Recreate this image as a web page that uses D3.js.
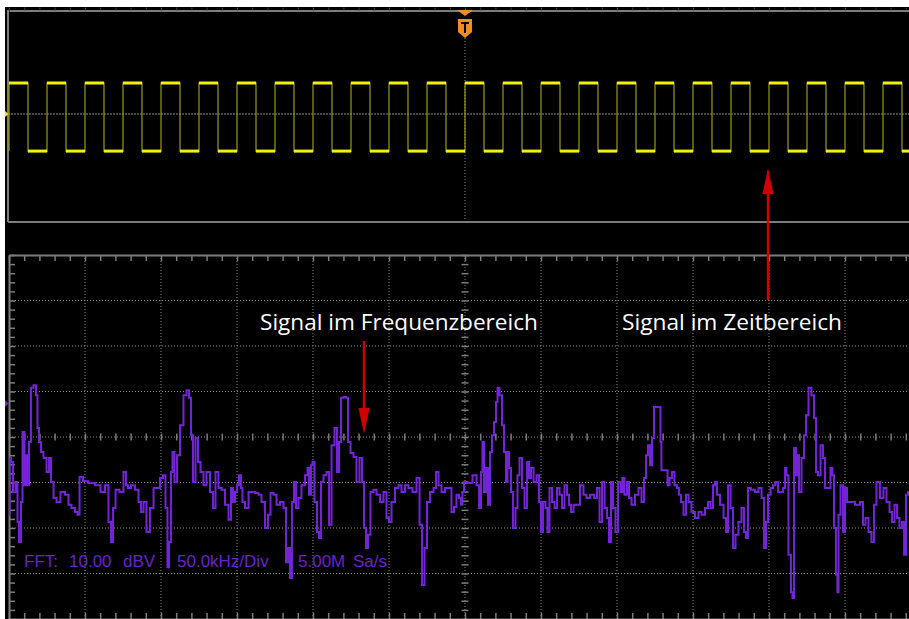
<!DOCTYPE html>
<html>
<head>
<meta charset="utf-8">
<script src="https://cdn.jsdelivr.net/npm/d3@7"></script>
<style>
  html, body { margin: 0; padding: 0; background: #fff; }
  svg { display: block; }
</style>
</head>
<body>
<svg id="scope" width="909" height="619"></svg>
<script>
// ---- Channel 1, time domain (10 µs/div, trigger at t = 0) ----
const risingEdges  = [-60, -55, -50, -45, -40, -35, -30, -25, -20, -15, -10, -5, 0, 5, 10, 15, 20, 25, 30, 35, 40, 45, 50, 55];
const fallingEdges = [-57.5, -52.5, -47.5, -42.5, -37.5, -32.5, -27.5, -22.5, -17.5, -12.5, -7.5, -2.5, 2.5, 7.5, 12.5, 17.5, 22.5, 27.5, 32.5, 37.5, 42.5, 47.5, 52.5, 57.5];
const highLevel = 1.17;   // V
const lowLevel  = -1.40;  // V

// ---- FFT of channel 1: [frequency kHz, level dBV] ----
const fftSpectrum = [
  [0,-17.1],[0.7,-4.6],[2.0,-5.5],[3.3,-12.1],[5.3,-9.9],[5.9,-18.7],[7.2,-23.1],[8.6,-14.3],[9.2,1.1],[11.2,-10.6],
  [11.8,-4.0],[12.5,-10.6],[13.8,-1.1],[15.1,10.8],[17.1,11.4],[18.4,9.2],[19.1,2.0],[20.4,-1.1],[21.7,-3.3],[23.7,-4.6],
  [25.7,-7.7],[27.0,-4.6],[28.3,-9.9],[30.3,-13.4],[32.2,-14.3],[35.5,-12.1],[38.2,-12.7],[40.1,-14.9],[42.1,-15.6],[44.7,-16.5],
  [45.4,-17.1],[47.4,-8.8],[50.0,-9.7],[54.6,-10.1],[58.6,-10.6],[61.8,-12.1],[64.5,-10.6],[66.4,-18.7],[67.8,-23.1],[69.1,-15.6],
  [71.1,-11.6],[74.3,-12.1],[76.3,-7.7],[77.6,-10.6],[78.9,-11.2],[81.6,-10.6],[84.2,-11.6],[86.2,-14.3],[87.5,-16.5],[89.5,-14.3],
  [91.4,-20.9],[94.1,-15.6],[96.1,-11.2],[98.0,-11.2],[100.7,-9.0],[102.0,-8.4],[103.9,-15.6],[104.6,-28.6],[105.9,-23.1],[107.2,-7.7],
  [107.9,-3.3],[109.9,-9.9],[111.2,-4.0],[113.8,2.6],[115.8,9.2],[117.8,10.3],[119.1,8.6],[120.4,0.4],[121.7,-9.9],[123.7,-0.2],
  [125.0,-5.5],[127.0,-7.7],[128.9,-10.6],[130.9,-7.7],[133.6,-12.1],[134.9,-15.6],[136.8,-7.7],[138.8,-11.2],[140.8,-11.6],[143.4,-14.9],
  [145.4,-18.2],[146.7,-11.2],[148.0,-14.3],[149.3,-12.1],[150.7,-10.6],[151.9,-8.4],[153.3,-11.2],[153.9,-14.3],[156.6,-15.6],[158.6,-12.1],
  [160.5,-12.1],[163.2,-12.3],[165.1,-12.7],[167.1,-14.3],[169.7,-20.0],[171.1,-17.1],[173.0,-12.3],[175.0,-12.7],[177.0,-14.9],[179.6,-14.3],
  [181.6,-15.6],[182.9,-27.5],[184.2,-24.4],[185.5,-31.0],[186.8,-14.3],[188.2,-9.9],[189.5,-15.6],[191.4,-13.4],[193.4,-10.6],[196.1,-8.4],
  [196.7,-6.8],[198.0,-12.7],[199.3,-6.2],[200.0,-5.5],[202.0,-14.3],[203.3,-20.9],[204.6,-22.2],[205.9,-9.9],[207.9,-8.4],[209.9,-7.7],
  [211.2,-19.3],[213.2,-1.8],[215.1,2.0],[216.4,-7.7],[217.8,-1.1],[219.1,8.6],[221.1,8.8],[222.4,8.6],[223.7,-1.1],[225.7,-3.5],
  [227.6,-4.4],[229.6,-9.9],[231.6,-4.6],[232.9,-9.9],[234.2,-20.0],[235.5,-24.4],[236.8,-21.5],[238.8,-12.1],[240.8,-11.6],[242.8,-12.7],
  [245.4,-14.3],[247.4,-12.1],[249.3,-17.8],[250.7,-18.7],[252.6,-14.3],[255.3,-11.2],[257.2,-10.6],[259.2,-12.1],[261.8,-10.6],[263.8,-11.2],
  [267.1,-12.1],[269.1,-9.0],[271.1,-19.3],[272.4,-32.5],[274.3,-24.4],[275.7,-14.3],[278.3,-12.1],[280.3,-11.2],[281.6,-7.7],[283.6,-10.6],
  [285.5,-12.1],[288.2,-11.2],[290.1,-11.2],[292.1,-16.5],[293.4,-15.4],[295.4,-12.7],[296.7,-13.4],[298.0,-14.9],[298.7,-12.1],[300.0,-9.9],
  [303.3,-10.1],[306.6,-8.4],[308.6,-10.6],[309.9,-15.6],[311.2,-7.7],[311.8,-1.1],[313.2,-12.1],[314.5,-6.8],[315.8,-14.9],[317.1,-3.3],
  [318.4,0.4],[319.7,3.3],[321.1,7.7],[321.7,10.8],[323.7,9.2],[325.0,2.6],[326.3,-3.3],[327.6,-9.9],[328.3,-3.3],[329.6,-6.8],
  [330.9,-12.1],[332.2,-20.0],[334.2,-15.6],[334.9,-8.4],[336.8,-4.6],[338.2,-11.2],[340.1,-15.6],[341.4,-5.5],[342.8,-9.0],[344.1,-6.8],
  [346.1,-9.9],[348.0,-8.4],[349.3,-14.3],[350.7,-20.9],[352.0,-14.3],[353.9,-15.6],[354.6,-20.9],[356.6,-11.2],[357.9,-14.3],[359.9,-15.6],
  [361.2,-11.2],[363.2,-12.7],[364.5,-15.6],[366.4,-10.6],[367.8,-12.7],[369.1,-14.9],[370.4,-16.5],[372.4,-14.9],[374.3,-14.9],[377.0,-10.6],
  [378.9,-12.7],[380.9,-13.4],[383.6,-12.7],[386.2,-13.4],[387.5,-11.2],[389.5,-18.7],[390.8,-9.9],[392.8,-15.6],[394.1,-17.8],[395.4,-23.1],
  [396.7,-9.9],[398.0,-15.6],[400.0,-20.9],[401.3,-9.9],[403.3,-12.1],[403.9,-9.0],[405.9,-12.7],[407.2,-9.9],[408.6,-13.4],[410.5,-14.9],
  [413.2,-12.7],[415.1,-11.2],[417.1,-14.3],[418.4,-9.0],[419.7,-4.0],[421.1,-1.8],[422.4,-6.2],[423.7,-0.2],[425.0,6.6],[427.0,6.6],
  [428.3,6.6],[428.9,-1.1],[429.6,-7.3],[432.9,-7.3],[433.6,-10.6],[435.5,-9.0],[436.8,-7.7],[438.8,-10.6],[440.1,-11.2],[441.4,-12.7],
  [442.8,-14.3],[444.7,-17.1],[446.1,-12.7],[448.0,-14.3],[450.0,-16.5],[452.6,-17.8],[454.6,-16.5],[456.6,-17.1],[459.2,-15.6],[460.5,-14.3],
  [462.5,-15.6],[463.8,-10.6],[465.1,-9.9],[466.4,-12.7],[469.1,-14.9],[471.1,-17.8],[472.4,-20.9],[473.7,-10.6],[475.7,-15.6],[477.0,-24.4],
  [478.9,-21.5],[480.9,-18.7],[482.9,-15.6],[484.2,-20.9],[485.5,-22.2],[486.8,-11.2],[489.5,-11.6],[492.1,-12.1],[494.1,-11.2],[496.1,-13.4],
  [497.4,-24.4],[498.7,-18.7],[500.0,-12.7],[502.0,-11.2],[503.3,-10.6],[505.3,-9.9],[506.6,-12.1],[508.6,-12.1],[509.9,-11.2],[511.2,-6.8],
  [511.8,-8.4],[513.8,-25.9],[515.1,-34.1],[515.8,-35.4],[517.1,-2.4],[518.4,-8.4],[519.1,-4.0],[520.4,-12.1],[522.4,-4.6],[523.7,0.4],
  [525.0,4.8],[527.0,10.8],[528.9,9.2],[530.3,4.2],[531.6,-7.7],[532.9,-8.4],[534.9,-1.8],[536.2,-4.6],[537.5,-11.2],[539.5,-11.2],
  [541.4,-6.8],[542.1,-8.4],[543.4,-20.0],[544.7,-30.3],[545.4,-34.1],[546.1,-17.1],[548.0,-10.6],[549.3,-20.9],[550.7,-11.2],[552.0,-14.3],
  [554.6,-14.3],[558.6,-14.9],[561.2,-14.3],[562.5,-19.3],[564.5,-17.8],[566.4,-20.9],[568.4,-23.1],[569.7,-14.9],[571.7,-9.9],[574.3,-13.4],
  [576.3,-11.2],[578.3,-14.3],[580.3,-16.5],[581.6,-18.7],[583.6,-14.9],[584.9,-17.8],[586.8,-20.0],[588.2,-18.7],[589.5,-25.9],[590.8,-12.7],
  [592.1,-12.1]
];

// Readout and annotation texts
const fftReadout = ["FFT:", "10.00", "dBV", "50.0kHz/Div", "5.00M", "Sa/s"];
const annotations = ["Signal im Frequenzbereich", "Signal im Zeitbereich"];

// ---- Layout ----
const W = 909, H = 619;
const screen = { x: 5, y: 7 };
const topPanel = { top: 10, bottom: 222, left: 8 };
const fftPanel = { top: 255, bottom: 619, left: 9, right: 921 };
const GRID = "#7c7c7c";
const TRACE_FFT = "#7424d8";
const TEXT_FFT = "#6a22cc";
const RED = "#d00000";

const svg = d3.select("#scope");

// Black display area
svg.append("rect").attr("x", screen.x).attr("y", screen.y)
  .attr("width", W - screen.x).attr("height", H - screen.y).attr("fill", "#000");

// Scales
const xT = d3.scaleLinear().domain([-60, 60]).range([9, 921]);        // µs
const yT = d3.scaleLinear().domain([-4, 4]).range([220, 8]);          // V
const xF = d3.scaleLinear().domain([0, 600]).range([fftPanel.left, fftPanel.right]); // kHz
const yF = d3.scaleLinear().domain([-40, 40]).range([fftPanel.bottom, fftPanel.top]); // dBV

// ================= Time-domain panel =================
const tp = svg.append("g");

// dotted ground reference and trigger position
tp.append("line")
  .attr("x1", topPanel.left).attr("x2", W).attr("y1", yT(0)).attr("y2", yT(0))
  .attr("stroke", "#8a8a8a").attr("stroke-width", 1).attr("stroke-dasharray", "2,1");
tp.append("line")
  .attr("x1", xT(0)).attr("x2", xT(0)).attr("y1", 38).attr("y2", topPanel.bottom)
  .attr("stroke", "#8a8a8a").attr("stroke-width", 1).attr("stroke-dasharray", "1,2");

// frame
const topAxis = d3.axisTop(xT).tickValues(d3.range(-60, 61, 2)).tickSize(3).tickSizeOuter(0).tickFormat("");
tp.append("g").attr("transform", `translate(0,${topPanel.top + 0.5})`).call(topAxis)
  .call(g => g.select(".domain").attr("stroke", GRID).attr("stroke-width", 2))
  .call(g => g.selectAll(".tick line").attr("stroke", "#3c3c3c").attr("stroke-width", 1));
tp.append("line").attr("x1", topPanel.left).attr("x2", W).attr("y1", topPanel.bottom).attr("y2", topPanel.bottom)
  .attr("stroke", GRID).attr("stroke-width", 2);
tp.append("line").attr("x1", topPanel.left).attr("x2", topPanel.left).attr("y1", topPanel.top).attr("y2", topPanel.bottom)
  .attr("stroke", GRID).attr("stroke-width", 2);

// square wave from the edge list
const edges = risingEdges.map(t => ({ t, v: highLevel }))
  .concat(fallingEdges.map(t => ({ t, v: lowLevel })))
  .sort((a, b) => a.t - b.t);
const wavePts = [[xT.domain()[0], lowLevel]];
let level = lowLevel;
edges.forEach(e => { wavePts.push([e.t, level]); wavePts.push([e.t, e.v]); level = e.v; });
wavePts.push([xT.domain()[1], level]);

tp.append("clipPath").attr("id", "clipTop").append("rect")
  .attr("x", topPanel.left).attr("y", topPanel.top).attr("width", W - topPanel.left).attr("height", topPanel.bottom - topPanel.top);
const waveG = tp.append("g").attr("clip-path", "url(#clipTop)");
const waveLine = d3.line().x(d => xT(d[0])).y(d => yT(d[1]));
// dim transitions
waveG.append("path").attr("d", waveLine(wavePts)).attr("fill", "none")
  .attr("stroke", "#9a9a10").attr("stroke-opacity", 0.75).attr("stroke-width", 1.6);
// bright plateaus
const plateaus = [];
for (let i = 0; i < edges.length; i++) {
  const end = i + 1 < edges.length ? edges[i + 1].t : xT.domain()[1];
  plateaus.push([edges[i].t, end, edges[i].v]);
}
waveG.selectAll("line.plateau").data(plateaus).join("line").attr("class", "plateau")
  .attr("x1", d => xT(d[0])).attr("x2", d => xT(d[1]))
  .attr("y1", d => yT(d[2])).attr("y2", d => yT(d[2]))
  .attr("stroke", "#f2f200").attr("stroke-width", 3);

// channel marker
svg.append("path").attr("d", `M5,${yT(0) - 3}L8.5,${yT(0)}L5,${yT(0) + 3}Z`).attr("fill", "#e8e800");

// trigger marker
const trig = svg.append("g").attr("fill", "#f28c1c");
trig.append("path").attr("d", `M${xT(0) - 8},10L${xT(0) + 8},10L${xT(0)},16Z`);
trig.append("path").attr("d", `M${xT(0) - 7},19H${xT(0) + 7}V32L${xT(0)},38L${xT(0) - 7},32Z`);
trig.append("path").attr("d", `M${xT(0) - 4},22H${xT(0) + 4}V24H${xT(0) + 1}V33H${xT(0) - 1}V24H${xT(0) - 4}Z`).attr("fill", "#000");

// ================= FFT panel =================
const fp = svg.append("g");

// dotted grid
fp.selectAll("line.vgrid").data(d3.range(50, 600, 50)).join("line").attr("class", "vgrid")
  .attr("x1", d => xF(d)).attr("x2", d => xF(d)).attr("y1", fftPanel.top).attr("y2", fftPanel.bottom)
  .attr("stroke", "#8a8a8a").attr("stroke-width", 1).attr("stroke-dasharray", "1,2");
fp.selectAll("line.hgrid").data(d3.range(-30, 40, 10)).join("line").attr("class", "hgrid")
  .attr("x1", fftPanel.left).attr("x2", W).attr("y1", d => yF(d)).attr("y2", d => yF(d))
  .attr("stroke", "#8a8a8a").attr("stroke-width", 1).attr("stroke-dasharray", "1,2");

const styleAxis = (g, domainWidth) => {
  g.select(".domain").attr("stroke", domainWidth ? GRID : "none").attr("stroke-width", domainWidth || 0);
  g.selectAll(".tick line").attr("stroke", GRID).attr("stroke-width", 1.5);
};
const minorF = d3.range(0, 601, 10);
const minorL = d3.range(-40, 41, 2);

// border with minor ticks
fp.append("g").attr("transform", `translate(0,${fftPanel.top})`)
  .call(d3.axisBottom(xF).tickValues(minorF).tickSize(6).tickSizeOuter(0).tickFormat(""))
  .call(g => styleAxis(g, 2));
fp.append("g").attr("transform", `translate(0,${fftPanel.bottom})`)
  .call(d3.axisTop(xF).tickValues(minorF).tickSize(6).tickSizeOuter(0).tickFormat(""))
  .call(g => styleAxis(g, 2));
fp.append("g").attr("transform", `translate(${fftPanel.left},0)`)
  .call(d3.axisRight(yF).tickValues(minorL).tickSize(6).tickSizeOuter(0).tickFormat(""))
  .call(g => styleAxis(g, 2));

// centre cross ticks
[d3.axisTop, d3.axisBottom].forEach(ax => {
  fp.append("g").attr("transform", `translate(0,${yF(0)})`)
    .call(ax(xF).tickValues(minorF).tickSize(3.5).tickSizeOuter(0).tickFormat(""))
    .call(g => styleAxis(g, 0));
});
[d3.axisLeft, d3.axisRight].forEach(ax => {
  fp.append("g").attr("transform", `translate(${xF(300)},0)`)
    .call(ax(yF).tickValues(minorL).tickSize(3.5).tickSizeOuter(0).tickFormat(""))
    .call(g => styleAxis(g, 0));
});

// readout
const readoutX = [24, 69, 123, 177, 298, 353];
fp.selectAll("text.readout").data(fftReadout).join("text").attr("class", "readout")
  .attr("x", (d, i) => readoutX[i]).attr("y", 567)
  .attr("font-family", "'Liberation Sans', Arial, sans-serif").attr("font-size", 17)
  .attr("fill", TEXT_FFT).text(d => d);

// spectrum trace
fp.append("clipPath").attr("id", "clipFft").append("rect")
  .attr("x", fftPanel.left).attr("y", fftPanel.top).attr("width", W - fftPanel.left).attr("height", fftPanel.bottom - fftPanel.top);
fp.append("path")
  .attr("clip-path", "url(#clipFft)")
  .attr("d", d3.line().x(d => xF(d[0])).y(d => yF(d[1])).curve(d3.curveStep)(fftSpectrum))
  .attr("fill", "none").attr("stroke", TRACE_FFT).attr("stroke-width", 2).attr("stroke-linejoin", "miter");

// channel marker
svg.append("path").attr("d", "M5,400L8.5,403.5L5,407Z").attr("fill", TRACE_FFT);

// ================= Annotations =================
const annLayout = [
  { x: 260, y: 330, width: 278, arrow: { x: 364, from: 341, to: 434 } },
  { x: 622, y: 330, width: 220, arrow: { x: 768, from: 300, to: 168 } }
];
const ann = svg.append("g");
annotations.forEach((txt, i) => {
  const L = annLayout[i];
  const t = ann.append("text").attr("x", L.x).attr("y", L.y)
    .attr("font-family", "'Open Sans', 'Noto Sans', sans-serif").attr("font-size", 22)
    .attr("fill", "#fff").text(txt);
  const w = t.node().getComputedTextLength();
  t.attr("font-size", 22 * L.width / w);

  const a = L.arrow, dir = Math.sign(a.to - a.from), headLen = 26, half = 5.5;
  ann.append("line").attr("x1", a.x).attr("x2", a.x).attr("y1", a.from).attr("y2", a.to - dir * headLen)
    .attr("stroke", RED).attr("stroke-width", 2.5);
  ann.append("path")
    .attr("d", `M${a.x - half},${a.to - dir * headLen}L${a.x + half},${a.to - dir * headLen}L${a.x},${a.to}Z`)
    .attr("fill", RED);
});
</script>
</body>
</html>
